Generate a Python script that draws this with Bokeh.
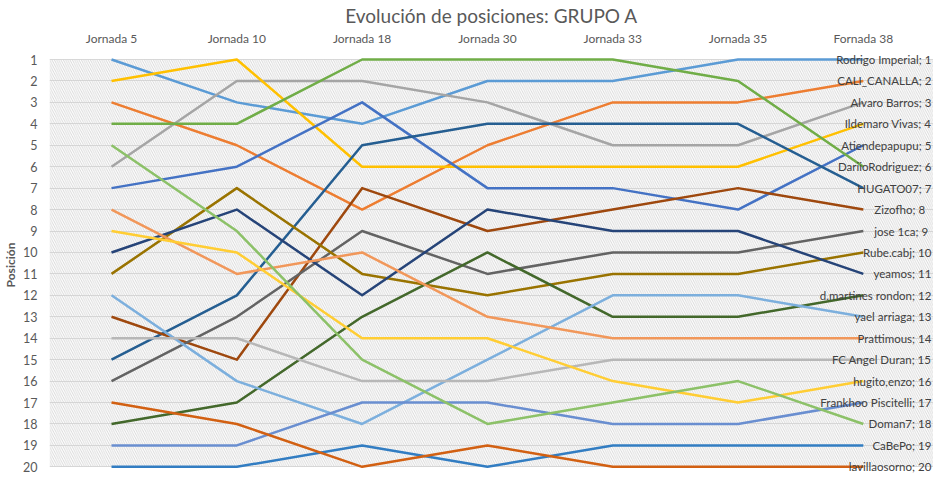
from bokeh.plotting import figure
from bokeh.models import Range1d, FixedTicker, BoxAnnotation, LabelSet, ColumnDataSource
from bokeh.core.properties import value
from bokeh.embed import file_html
from bokeh.resources import INLINE

# ---------------- data ----------------
jornadas = ["Jornada 5", "Jornada 10", "Jornada 18", "Jornada 30", "Jornada 33", "Jornada 35", "Fornada 38"]

names = ["Rodrigo Imperial", "CALI_CANALLA", "Alvaro Barros", "Ildemaro Vivas", "Atiendepapupu",
         "DariioRodriguez", "HUGATO07", "Zizofho", "jose 1ca", "Rube.cabj", "yeamos",
         "d.martines rondon", "yael arriaga", "Prattimous", "FC Angel Duran", "hugito,enzo",
         "Frankhoo Piscitelli", "Doman7", "CaBePo", "lavillaosorno"]

rodrigo_imperial = [1, 3, 4, 2, 2, 1, 1]
cali_canalla = [3, 5, 8, 5, 3, 3, 2]
alvaro_barros = [6, 2, 2, 3, 5, 5, 3]
ildemaro_vivas = [2, 1, 6, 6, 6, 6, 4]
atiendepapupu = [7, 6, 3, 7, 7, 8, 5]
dariio_rodriguez = [4, 4, 1, 1, 1, 2, 6]
hugato07 = [15, 12, 5, 4, 4, 4, 7]
zizofho = [13, 15, 7, 9, 8, 7, 8]
jose_1ca = [16, 13, 9, 11, 10, 10, 9]
rube_cabj = [11, 7, 11, 12, 11, 11, 10]
yeamos = [10, 8, 12, 8, 9, 9, 11]
d_martines_rondon = [18, 17, 13, 10, 13, 13, 12]
yael_arriaga = [12, 16, 18, 15, 12, 12, 13]
prattimous = [8, 11, 10, 13, 14, 14, 14]
fc_angel_duran = [14, 14, 16, 16, 15, 15, 15]
hugito_enzo = [9, 10, 14, 14, 16, 17, 16]
frankhoo_piscitelli = [19, 19, 17, 17, 18, 18, 17]
doman7 = [5, 9, 15, 18, 17, 16, 18]
cabepo = [20, 20, 19, 20, 19, 19, 19]
lavillaosorno = [17, 18, 20, 19, 20, 20, 20]

series = [rodrigo_imperial, cali_canalla, alvaro_barros, ildemaro_vivas, atiendepapupu,
          dariio_rodriguez, hugato07, zizofho, jose_1ca, rube_cabj, yeamos,
          d_martines_rondon, yael_arriaga, prattimous, fc_angel_duran, hugito_enzo,
          frankhoo_piscitelli, doman7, cabepo, lavillaosorno]

position_ticks = list(range(1, 21))

# ---------------- style ----------------
colors = ["#5B9BD5", "#ED7D31", "#A5A5A5", "#FFC000", "#4472C4", "#70AD47", "#255E91",
          "#9E480E", "#636363", "#997300", "#264478", "#43682B", "#7CAFDD", "#F1975A",
          "#B7B7B7", "#FFCD33", "#698ED0", "#8CC168", "#327DC2", "#D26012"]
short_labels = {"Zizofho", "jose 1ca"}
FONT = "Lato"
TXT = "#595959"

xs = list(range(len(jornadas)))

p = figure(frame_width=884, frame_height=423, output_backend="svg", toolbar_location=None,
           x_range=Range1d(start=-0.495, end=6.56),
           y_range=Range1d(start=20.45, end=0.72),
           x_axis_location="above",
           min_border_left=42, min_border_right=0, min_border_top=40, min_border_bottom=0)

p.title.text = "Evolución de posiciones: GRUPO A"
p.title.align = "center"
p.title.text_font = FONT
p.title.text_font_size = "19px"
p.title.text_font_style = "normal"
p.title.text_color = TXT
p.title.offset = 0
p.title.standoff = 2

p.outline_line_color = None
p.background_fill_color = "white"
p.border_fill_color = "white"

# plot-area hatch (between position 1 and position 20)
p.add_layout(BoxAnnotation(top=position_ticks[0], bottom=position_ticks[-1],
                           fill_alpha=0, line_color=None,
                           hatch_pattern="left_diagonal_line", hatch_color="#CFCFCF",
                           hatch_scale=4.5, hatch_weight=0.8, level="underlay"))

p.xgrid.grid_line_color = None
p.ygrid.grid_line_color = "#D9D9D9"
p.ygrid.grid_line_width = 1
p.ygrid.ticker = FixedTicker(ticks=position_ticks)

xa = p.xaxis[0]
xa.ticker = FixedTicker(ticks=xs)
xa.major_label_overrides = {i: j for i, j in zip(xs, jornadas)}
xa.axis_line_color = None
xa.major_tick_line_color = None
xa.minor_tick_line_color = None
xa.major_label_text_font = FONT
xa.major_label_text_font_size = "12px"
xa.major_label_text_color = TXT
xa.major_label_standoff = 2

ya = p.yaxis[0]
ya.ticker = FixedTicker(ticks=position_ticks)
ya.axis_line_color = None
ya.major_tick_line_color = None
ya.minor_tick_line_color = None
ya.major_label_text_font = FONT
ya.major_label_text_font_size = "12.5px"
ya.major_label_text_color = TXT
ya.major_label_standoff = 6
ya.axis_label = "Posición"
ya.axis_label_text_font = FONT
ya.axis_label_text_font_size = "12px"
ya.axis_label_text_font_style = "bold"
ya.axis_label_text_color = TXT
ya.axis_label_standoff = 2

for vals, col in zip(series, colors):
    p.line(xs, vals, line_color=col, line_width=2.5, line_join="round")

lx, ly, lt, rx, ry, rt = [], [], [], [], [], []
for nm, vals in zip(names, series):
    lab = f"{nm}; {vals[-1]}"
    if nm in short_labels:
        lx.append(xs[-1]); ly.append(vals[-1]); lt.append(lab)
    else:
        rx.append(xs[-1]); ry.append(vals[-1]); rt.append(lab)
left_src = ColumnDataSource(dict(x=lx, y=ly, t=lt))
right_src = ColumnDataSource(dict(x=rx, y=ry, t=rt))

p.add_layout(LabelSet(x="x", y="y", text="t", source=left_src, x_offset=11,
                      text_align="left", text_baseline="middle", text_font=value(FONT),
                      text_font_size=value("11.5px"), text_color=value("#404040")))
p.add_layout(LabelSet(x="x", y="y", text="t", source=right_src, x_offset=68,
                      text_align="right", text_baseline="middle", text_font=value(FONT),
                      text_font_size=value("11.5px"), text_color=value("#404040")))

open("out.html", "w").write(file_html(p, INLINE))
